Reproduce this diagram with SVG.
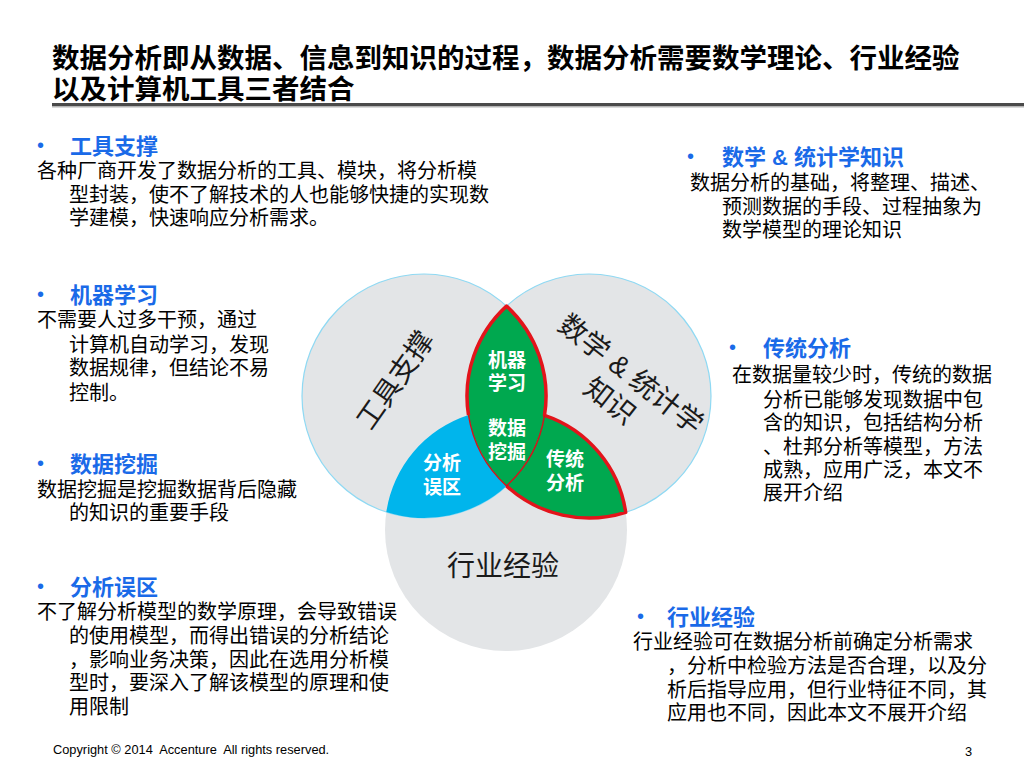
<svg xmlns="http://www.w3.org/2000/svg" width="1024" height="768" viewBox="0 0 1024 768">
<style>
text{font-family:"Liberation Sans","Noto Sans CJK SC",sans-serif}
.title{font-size:27.5px;font-weight:700;fill:#000}
.h{font-size:22px;font-weight:700;fill:#1a6ae8}
.b{font-size:20px;fill:#000}
.dot{font-size:20px;fill:#1a6ae8}
.circ{fill:#e3e5e7}
.edge{fill:none;stroke:#8fd9f3;stroke-width:1.2}
.w{font-size:19px;font-weight:700;fill:#fff;text-anchor:middle}
.big{font-size:28px;fill:#1a1a1a;text-anchor:middle}
.foot{font-size:12.8px;fill:#000}
</style>
<rect width="1024" height="768" fill="#fff"/>
<g id="title">
<text class="title"><tspan x="52" y="68">数据分析即从数据、信息到知识的过程，数据分析需要数学理论、行业经验</tspan><tspan x="52" y="99">以及计算机工具三者结合</tspan></text>
<rect x="52" y="103" width="972" height="3" fill="#4a4a4a"/>
<rect x="52" y="106" width="972" height="1.5" fill="#b5b5b5"/>
</g>
<g id="venn">
<circle id="circle-industry" class="circ" cx="506" cy="530" r="121"/>
<circle id="circle-tools" class="circ" cx="424" cy="396" r="122"/>
<circle id="circle-math" class="circ" cx="589" cy="396" r="122"/>
<circle class="edge" cx="424" cy="396" r="122"/>
<circle class="edge" cx="589" cy="396" r="122"/>
</g>
<g id="region-err">
<path d="M386.3 512.1 A121 121 0 0 1 468.5 415 A122 122 0 0 0 506.5 485.9 A122 122 0 0 1 386.3 512.1 Z" fill="#00b5ec"/>
<text class="w"><tspan x="442" y="470">分析</tspan><tspan x="442" y="494">误区</tspan></text>
</g>
<g id="region-ml">
<path d="M506.5 306.1 A122 122 0 0 1 506.5 485.9 A122 122 0 0 1 506.5 306.1 Z" fill="#00a84f"/>
<text class="w"><tspan x="507" y="367">机器</tspan><tspan x="507" y="390">学习</tspan><tspan x="507" y="435">数据</tspan><tspan x="507" y="459">挖掘</tspan></text>
</g>
<g id="region-trad">
<path d="M544.5 415.3 A121 121 0 0 1 625.7 512.4 A122 122 0 0 1 506.5 485.9 A122 122 0 0 0 544.5 415.3 Z" fill="#00a84f"/>
<text class="w"><tspan x="565" y="466">传统</tspan><tspan x="565" y="490">分析</tspan></text>
</g>
<g id="connectors">
<path d="M468.5 415 A122 122 0 0 1 506.5 306.1 A122 122 0 0 1 544.5 415.3 A121 121 0 0 1 625.7 512.4 A122 122 0 0 1 506.5 485.9" fill="none" stroke="#e3141b" stroke-width="3.5" stroke-linejoin="round"/>
<path d="M468.5 415 A122 122 0 0 0 506.5 485.9 A122 122 0 0 0 544.5 415.3" fill="none" stroke="#d0141b" stroke-width="1.5"/>
</g>
<g id="label-tools">
<text class="big" font-size="27" transform="translate(395,380) rotate(-55)" y="10">工具支撑</text>
</g>
<g id="label-math">
<text class="big" font-size="27" transform="translate(631,374) rotate(38)"><tspan x="0" y="10">数学 &amp; 统计学</tspan><tspan x="0" y="44">知识</tspan></text>
</g>
<g id="label-industry">
<text class="big" x="503" y="576">行业经验</text>
</g>
<g id="block-tools">
<text><tspan class="dot" x="37" y="152">•</tspan><tspan class="h" x="70" y="154">工具支撑</tspan><tspan class="b" x="37" y="178">各种厂商开发了数据分析的工具、模块，将分析模</tspan><tspan class="b" x="69" y="202">型封装，使不了解技术的人也能够快捷的实现数</tspan><tspan class="b" x="69" y="225">学建模，快速响应分析需求。</tspan></text>
</g>
<g id="block-ml">
<text><tspan class="dot" x="37" y="301">•</tspan><tspan class="h" x="70" y="303">机器学习</tspan><tspan class="b" x="37" y="327">不需要人过多干预，通过</tspan><tspan class="b" x="69" y="352">计算机自动学习，发现</tspan><tspan class="b" x="69" y="375">数据规律，但结论不易</tspan><tspan class="b" x="69" y="400">控制。</tspan></text>
</g>
<g id="block-dm">
<text><tspan class="dot" x="37" y="470">•</tspan><tspan class="h" x="70" y="472">数据挖掘</tspan><tspan class="b" x="37" y="497">数据挖掘是挖掘数据背后隐藏</tspan><tspan class="b" x="69" y="520">的知识的重要手段</tspan></text>
</g>
<g id="block-err">
<text><tspan class="dot" x="37" y="593">•</tspan><tspan class="h" x="70" y="595">分析误区</tspan><tspan class="b" x="37" y="619">不了解分析模型的数学原理，会导致错误</tspan><tspan class="b" x="69" y="643">的使用模型，而得出错误的分析结论</tspan><tspan class="b" x="69" y="667">，影响业务决策，因此在选用分析模</tspan><tspan class="b" x="69" y="690">型时，要深入了解该模型的原理和使</tspan><tspan class="b" x="69" y="714">用限制</tspan></text>
</g>
<g id="block-math">
<text><tspan class="dot" x="687" y="163">•</tspan><tspan class="h" x="722" y="165">数学 &amp; 统计学知识</tspan><tspan class="b" x="690" y="190">数据分析的基础，将整理、描述、</tspan><tspan class="b" x="722" y="214">预测数据的手段、过程抽象为</tspan><tspan class="b" x="722" y="237">数学模型的理论知识</tspan></text>
</g>
<g id="block-trad">
<text><tspan class="dot" x="729" y="354">•</tspan><tspan class="h" x="763" y="356">传统分析</tspan><tspan class="b" x="732" y="382">在数据量较少时，传统的数据</tspan><tspan class="b" x="763" y="407">分析已能够发现数据中包</tspan><tspan class="b" x="763" y="430">含的知识，包括结构分析</tspan><tspan class="b" x="763" y="454">、杜邦分析等模型，方法</tspan><tspan class="b" x="763" y="477">成熟，应用广泛，本文不</tspan><tspan class="b" x="763" y="500">展开介绍</tspan></text>
</g>
<g id="block-industry">
<text><tspan class="dot" x="637" y="623">•</tspan><tspan class="h" x="667" y="625">行业经验</tspan><tspan class="b" x="633" y="649">行业经验可在数据分析前确定分析需求</tspan><tspan class="b" x="667" y="673">，分析中检验方法是否合理，以及分</tspan><tspan class="b" x="667" y="697">析后指导应用，但行业特征不同，其</tspan><tspan class="b" x="667" y="720">应用也不同，因此本文不展开介绍</tspan></text>
</g>
<g id="footer">
<text class="foot" x="53" y="754" xml:space="preserve">Copyright © 2014  Accenture  All rights reserved.</text>
<text class="foot" x="965" y="756">3</text>
</g>
</svg>
